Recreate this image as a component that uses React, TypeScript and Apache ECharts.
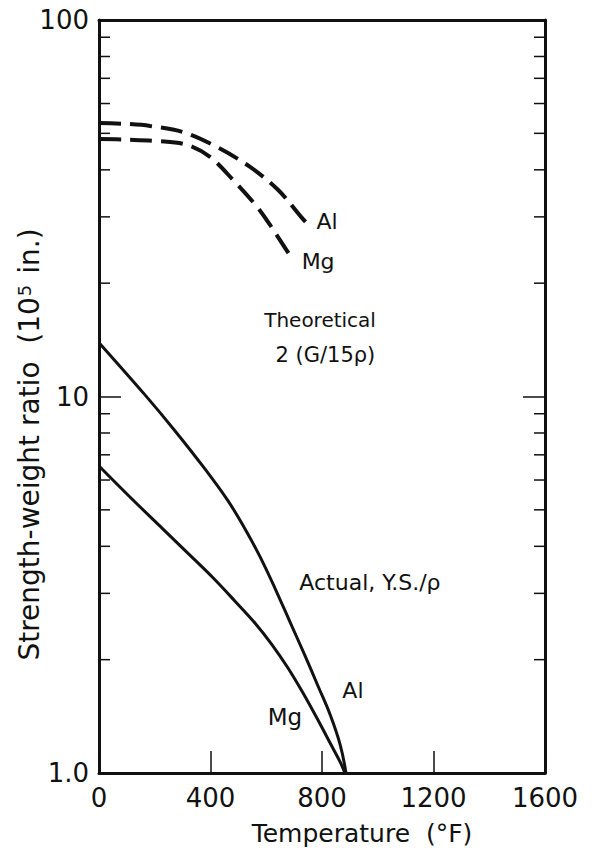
import React, { useEffect, useRef } from "react";
import * as echarts from "echarts";

// Temperature (°F) and strength-weight ratio (10^5 in.) for each curve
const theoAlTemps = [0, 111, 183, 301, 423, 542, 642, 725, 757];
const theoAlValues = [53.3, 52.9, 52.3, 50.4, 46.0, 40.7, 35.4, 30.0, 28.2];

const theoMgTemps = [0, 100, 208, 316, 398, 481, 567, 613, 696];
const theoMgValues = [48.3, 48.1, 47.7, 46.6, 43.3, 37.6, 31.9, 28.6, 23.0];

const actualAlTemps = [0, 165, 273, 380, 463, 524, 578, 631, 685, 739, 786, 829, 865, 886];
const actualAlValues = [13.9, 10.1, 8.1, 6.42, 5.28, 4.45, 3.75, 3.1, 2.52, 2.05, 1.7, 1.43, 1.19, 1.0];

const actualMgTemps = [0, 111, 226, 326, 409, 488, 560, 621, 678, 732, 786, 832, 865, 882];
const actualMgValues = [6.54, 5.41, 4.47, 3.79, 3.3, 2.86, 2.5, 2.19, 1.9, 1.63, 1.38, 1.19, 1.07, 1.0];

const xTicks = [0, 400, 800, 1200, 1600];
const minorLogTicks = [2, 3, 4, 5, 6, 7, 8, 9, 20, 30, 40, 50, 60, 70, 80, 90];

// Annotation texts anchored in data space: [temperature, ratio, text, size]
const notes: [number, number, string, number][] = [
  [818, 29.1, "Al", 22],
  [786, 22.8, "Mg", 22],
  [793, 16.0, "Theoretical", 20],
  [812, 12.9, "2 (G/15ρ)", 21],
  [972, 3.2, "Actual, Y.S./ρ", 22],
  [911, 1.66, "Al", 22],
  [667, 1.41, "Mg", 23],
];

const FONT = "DejaVu Sans";
const INK = "#111";

const pair = (xs: number[], ys: number[]) => xs.map((x, i) => [x, ys[i]]);

export default function App() {
  const ref = useRef<HTMLDivElement>(null);

  useEffect(() => {
    if (!ref.current) return;
    const chart = echarts.init(ref.current, null, { renderer: "svg" });

    const solid = { color: INK, width: 3, type: "solid" as const };
    const dashed = { color: INK, width: 4, type: [22, 9] as any };
    const curve = {
      type: "line" as const,
      smooth: 0.35,
      showSymbol: false,
      silent: true,
    };

    chart.setOption({
      animation: false,
      backgroundColor: "#fff",
      textStyle: { fontFamily: FONT, color: INK },
      grid: {
        left: 99,
        right: 53,
        top: 20,
        bottom: 85,
        containLabel: false,
        outerBoundsMode: "none",
      },
      xAxis: [
        {
          type: "value",
          min: xTicks[0],
          max: xTicks[xTicks.length - 1],
          interval: 400,
          name: "Temperature  (°F)",
          nameLocation: "middle",
          nameGap: 48,
          nameMoveOverlap: false,
          nameTextStyle: { fontFamily: FONT, fontSize: 25, color: INK, padding: [0, 0, 0, 80] },
          axisLine: { show: true, onZero: false, lineStyle: { color: INK, width: 3 } },
          axisTick: { show: true, inside: true, length: 22, lineStyle: { color: INK, width: 1.5 } },
          axisLabel: {
            fontFamily: FONT,
            fontSize: 26,
            color: INK,
            margin: 12,
            formatter: (v: number) => String(v),
          },
          splitLine: { show: false },
        },
        {
          type: "value",
          position: "top",
          min: xTicks[0],
          max: xTicks[xTicks.length - 1],
          interval: 400,
          axisLine: { show: true, onZero: false, lineStyle: { color: INK, width: 3 } },
          axisTick: { show: false },
          axisLabel: { show: false },
          splitLine: { show: false },
        },
      ],
      yAxis: [
        {
          type: "log",
          logBase: 10,
          min: 1,
          max: 100,
          splitNumber: 2,
          name: "Strength-weight ratio  (10{sup|5} in.)",
          nameLocation: "middle",
          nameGap: 56,
          nameRotate: 90,
          nameMoveOverlap: false,
          nameTextStyle: {
            fontFamily: FONT,
            fontSize: 28,
            color: INK,
            padding: [0, 96, 0, 0],
            rich: {
              sup: { fontFamily: FONT, fontSize: 18, color: INK, verticalAlign: "top", padding: [0, 2, 0, 1] },
            },
          },
          axisLine: { show: true, onZero: false, lineStyle: { color: INK, width: 3 } },
          axisTick: { show: true, inside: true, length: 22, lineStyle: { color: INK, width: 1.5 } },
          axisLabel: {
            fontFamily: FONT,
            fontSize: 26,
            color: INK,
            margin: 10,
            formatter: (v: number) => {
              const r = Math.round(v);
              return r === 1 ? "1.0" : String(r);
            },
          },
          splitLine: { show: false },
        },
        {
          type: "log",
          logBase: 10,
          min: 1,
          max: 100,
          splitNumber: 2,
          position: "right",
          axisLine: { show: true, onZero: false, lineStyle: { color: INK, width: 3 } },
          axisTick: { show: true, inside: true, length: 22, lineStyle: { color: INK, width: 1.5 } },
          axisLabel: { show: false },
          splitLine: { show: false },
        },
      ],
      series: [
        {
          name: "minor ticks",
          type: "custom",
          coordinateSystem: "cartesian2d",
          clip: false,
          silent: true,
          data: minorLogTicks.map((v) => [xTicks[0], v]),
          encode: { x: 0, y: 1 },
          renderItem: (params: any, api: any) => {
            const v = api.value(1);
            const l = api.coord([xTicks[0], v]);
            const r = api.coord([xTicks[xTicks.length - 1], v]);
            const style = { stroke: INK, lineWidth: 1.5 };
            return {
              type: "group",
              children: [
                { type: "line", shape: { x1: l[0], y1: l[1], x2: l[0] + 11, y2: l[1] }, style },
                { type: "line", shape: { x1: r[0] - 11, y1: r[1], x2: r[0], y2: r[1] }, style },
              ],
            };
          },
        },
        { ...curve, name: "Theoretical Al", data: pair(theoAlTemps, theoAlValues), lineStyle: dashed },
        { ...curve, name: "Theoretical Mg", data: pair(theoMgTemps, theoMgValues), lineStyle: dashed },
        { ...curve, name: "Actual Al", data: pair(actualAlTemps, actualAlValues), lineStyle: solid },
        { ...curve, name: "Actual Mg", data: pair(actualMgTemps, actualMgValues), lineStyle: solid },
        {
          name: "notes",
          type: "scatter",
          symbolSize: 0,
          silent: true,
          itemStyle: { opacity: 1 },
          data: notes.map(([x, y, t, s]) => ({
            value: [x, y],
            label: { fontSize: s },
            name: t,
          })),
          label: {
            show: true,
            position: "inside",
            formatter: (p: any) => p.name,
            fontFamily: FONT,
            color: INK,
            textBorderWidth: 0,
            opacity: 1,
          },
        },
      ],
    });

    return () => chart.dispose();
  }, []);

  return (
    <div
      ref={ref}
      style={{ position: "absolute", left: 0, top: 0, width: 598, height: 858 }}
    />
  );
}
